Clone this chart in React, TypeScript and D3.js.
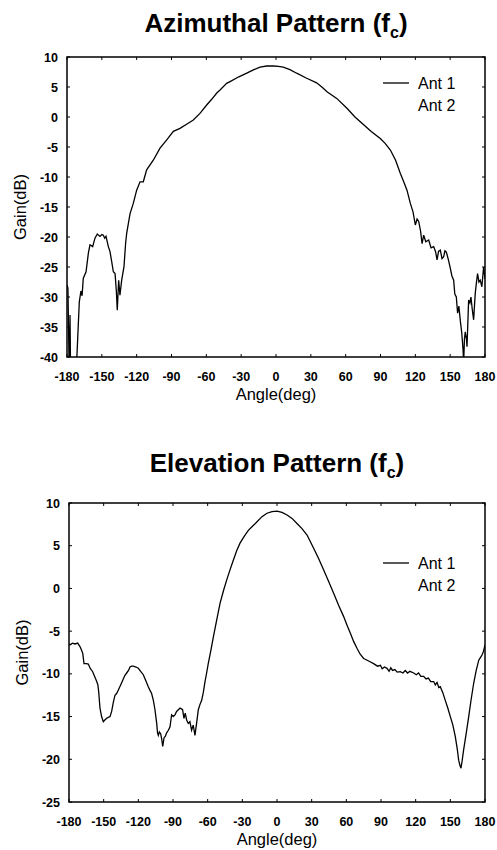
import React from 'react';
import * as d3 from 'd3';

// angle (deg) / gain (dB)
const azimuthAnt1: [number, number][] = [
  [-180, -28], [-179.2, -28.5], [-178.6, -36], [-178, -45], [-177.4, -33], [-176.8, -45], [-173, -45],
  [-171.5, -40], [-169.4, -30.8], [-168, -29], [-167, -29.8], [-166, -26.9], [-163.6, -25.8],
  [-161.6, -22.7], [-160.2, -21.3], [-157.9, -21.6], [-155.9, -20.2], [-153.9, -19.5], [-151.6, -19.9],
  [-150, -19.6], [-148.7, -19.7], [-147.5, -20.2], [-146.4, -19.9], [-144.4, -21.6], [-143, -22.4],
  [-141.5, -24.1], [-140.1, -25.8], [-138.6, -26.1], [-137.5, -29], [-136.7, -32.2], [-135.5, -27.2],
  [-134.4, -29.7], [-132.9, -27.2], [-130.9, -24.9], [-129.5, -21], [-128.6, -19.4], [-125.7, -16.1],
  [-122.9, -14.4], [-120, -12.2], [-117.1, -10.8], [-114.3, -10.8], [-111.4, -8.8], [-105.7, -7.2],
  [-99.9, -5.2], [-94.1, -3.8], [-88.4, -2.4], [-82.7, -1.9], [-77, -1.2], [-71.2, -0.5], [-65.5, 0.6],
  [-59.7, 2.0], [-55.4, 2.95], [-51, 4.0], [-48.2, 4.5], [-42.5, 5.6], [-39.6, 5.9], [-32, 6.7],
  [-25.2, 7.3], [-19, 7.9], [-13.8, 8.3], [-8, 8.5], [-2.3, 8.5], [2, 8.45], [6.3, 8.3], [12, 7.9],
  [17.8, 7.3], [26, 6.5], [35, 5.7], [40, 4.9], [43.9, 4.2], [52.3, 3.1], [61.1, 1.45], [68, 0],
  [75.5, -1.3], [82, -2.4], [89.8, -3.6], [94, -4.4], [98.5, -5.5], [103, -7.2], [107.1, -9.4],
  [110, -10.8], [112.8, -12.2], [115.7, -14.4], [118, -15.8], [120, -18], [121.5, -17], [122.9, -17.4],
  [124.5, -19], [125.8, -21.1], [127.2, -19.7], [129, -20.8], [131.5, -20.5], [133.5, -21.8],
  [135.8, -21.6], [137.5, -22.5], [138.7, -23.8], [140, -22.4], [141.5, -22.2], [143, -23.6],
  [144.4, -23.3], [145.5, -22.3], [146.7, -22.5], [148.5, -23.8], [150.1, -25.2], [151.5, -26.5],
  [153, -27.2], [154, -29.5], [155.3, -30], [156.4, -32.7], [157.5, -31.5], [158.7, -33.9], [160, -36],
  [161.1, -38.8], [161.6, -41], [162.3, -37], [163, -35.8], [164, -37], [164.5, -38.3], [165.9, -30.5],
  [167, -31], [167.9, -30], [169, -32], [170.2, -33.8], [171.6, -29.4], [172.5, -27.8], [173.6, -26.1],
  [174.8, -27.5], [175.9, -27.2], [177.3, -28.3], [178.8, -25], [180, -27],
];

const elevationAnt1: [number, number][] = [
  [-180, -6.5], [-179.1, -6.6], [-177, -6.4], [-174.8, -6.5], [-172.5, -6.4], [-170.5, -6.8],
  [-169.2, -7.2], [-168.1, -7.6], [-167, -8.8], [-165, -8.8], [-163.3, -8.85], [-161.5, -9.4],
  [-159.5, -9.75], [-157.8, -10.3], [-156, -10.9], [-155, -11.3], [-154.3, -12.1], [-153.2, -14],
  [-151.8, -15], [-150.3, -15.6], [-149, -15.4], [-147.4, -15.2], [-146, -15.1], [-144.5, -15],
  [-143.1, -14.4], [-141.6, -13.3], [-140.2, -12.5], [-138.8, -12.3], [-137.3, -11.9], [-135.3, -11.3],
  [-133.3, -10.7], [-131.7, -10.2], [-130.1, -9.9], [-128.5, -9.6], [-127.2, -9.2], [-125.8, -9.1],
  [-124.3, -9.1], [-122, -9.2], [-120, -9.35], [-118, -9.7], [-115.7, -10.1], [-113.5, -10.8],
  [-111.4, -11.5], [-110, -11.9], [-108.5, -12.3], [-107, -13.1], [-105.6, -14.2], [-104.1, -15.8],
  [-103.4, -16.9], [-102.7, -17.2], [-101.8, -16.8], [-100.7, -17], [-99.8, -17.6], [-98.9, -18.5],
  [-97.8, -17.5], [-96.6, -17.3], [-95.5, -16.9], [-94, -16.6], [-92.6, -16.2], [-91.8, -15.4],
  [-91.2, -14.8], [-89.8, -15], [-88.3, -14.8], [-86.9, -14.4], [-85.4, -14.2], [-83.9, -14],
  [-82.8, -14.1], [-81.7, -14.2], [-80.5, -15.2], [-79.4, -14.6], [-78.2, -15.4], [-76.8, -15.8],
  [-75.4, -15.6], [-73.9, -16.6], [-72.5, -16], [-71, -17.2], [-69.6, -15.8], [-68.1, -14.2],
  [-66.7, -13.6], [-65.2, -13.1], [-63.8, -12.2], [-62.3, -10.9], [-60.9, -9.9], [-59.5, -8.8],
  [-57.3, -7.3], [-55.1, -5.7], [-52.2, -3.7], [-49.3, -1.75], [-46.4, -0.3], [-43.5, 1], [-40.6, 2.2],
  [-37.8, 3.3], [-34.9, 4.4], [-32, 5.3], [-28.4, 6.1], [-24.8, 6.8], [-21, 7.3], [-17.3, 7.8],
  [-13, 8.4], [-8.7, 8.8], [-4.3, 9], [0, 9.05], [4.3, 8.9], [8.7, 8.6], [13, 8.2], [17.3, 7.6],
  [21.6, 7], [26, 6.25], [28.8, 5.5], [31.7, 4.7], [36, 3.5], [40.4, 2.15], [44.7, 0.8], [49.1, -0.6],
  [53.4, -2], [57.7, -3.3], [60.6, -4.3], [63.5, -5.25], [66.3, -6.2], [69.2, -7], [72, -7.7],
  [75, -8.2], [79.3, -8.5], [83.6, -8.8], [87, -9.1], [89.5, -9.0], [91, -9.4], [93, -9.2],
  [95.2, -9.35], [97, -9.7], [98.5, -9.3], [100, -9.6], [102, -9.5], [104, -9.8], [106.7, -9.75],
  [109, -9.9], [111, -9.6], [113, -9.9], [115, -9.7], [118.3, -9.9], [120.5, -10.1], [122.5, -9.9],
  [124.5, -10.3], [126.9, -10.3], [129, -10.6], [131, -10.5], [133, -10.9], [135.6, -10.9],
  [137, -11.3], [138.5, -11.0], [140, -11.6], [141.3, -11.5], [143.5, -12.2], [145.6, -13.1],
  [147.8, -14], [150, -15], [152.2, -16], [154.3, -17.35], [156, -18.8], [157.2, -20.1],
  [158.3, -20.7], [159.2, -21.05], [160.2, -20.2], [161.5, -18.9], [163.7, -17], [165.9, -15],
  [168, -13], [170.2, -11.1], [172.4, -9.6], [174.6, -8.4], [176, -8.1], [177.4, -7.8],
  [178.6, -7.4], [179.7, -6.8], [180, -6.6],
];

const angleTicks = [-180, -150, -120, -90, -60, -30, 0, 30, 60, 90, 120, 150, 180];
const azimuthGainTicks = [10, 5, 0, -5, -10, -15, -20, -25, -30, -35, -40];
const elevationGainTicks = [10, 5, 0, -5, -10, -15, -20, -25];
const legendLabels = ['Ant 1', 'Ant 2'];

const FONT = '"Liberation Sans", Arial, Helvetica, sans-serif';

type PanelProps = {
  id: string;
  title: string;
  titleY: number;
  data: [number, number][];
  gainTicks: number[];
  left: number;
  right: number;
  top: number;
  bottom: number;
  legendY: number;
  yLabelX: number;
};

const Panel = ({ id, title, titleY, data, gainTicks, left, right, top, bottom, legendY, yLabelX }: PanelProps) => {
  const x = d3.scaleLinear().domain([-180, 180]).range([left, right]);
  const y = d3
    .scaleLinear()
    .domain([d3.min(gainTicks) as number, d3.max(gainTicks) as number])
    .range([bottom, top]);

  const line = d3
    .line<[number, number]>()
    .x((d) => x(d[0]))
    .y((d) => y(d[1]));

  const midX = (left + right) / 2;

  return (
    <g>
      <defs>
        <clipPath id={`clip-${id}`}>
          <rect x={left} y={top} width={right - left} height={bottom - top} />
        </clipPath>
      </defs>

      <text x={midX} y={titleY} textAnchor="middle" fontFamily={FONT} fontWeight="bold" fontSize={26}>
        {title} (f<tspan fontSize={16} dy={6}>c</tspan>
        <tspan dy={-6}>)</tspan>
      </text>

      {/* frame */}
      <rect x={left} y={top} width={right - left} height={bottom - top} fill="none" stroke="#000" strokeWidth={1.5} />

      {/* inward ticks */}
      {angleTicks.map((t) => (
        <g key={`xt-${t}`}>
          <line x1={x(t)} x2={x(t)} y1={bottom} y2={bottom - 3} stroke="#000" strokeWidth={1} />
          <line x1={x(t)} x2={x(t)} y1={top} y2={top + 3} stroke="#000" strokeWidth={1} />
          <text x={x(t)} y={bottom + 24} textAnchor="middle" fontFamily={FONT} fontWeight="bold" fontSize={12.5}>
            {t}
          </text>
        </g>
      ))}
      {gainTicks.map((t) => (
        <g key={`yt-${t}`}>
          <line x1={left} x2={left + 3} y1={y(t)} y2={y(t)} stroke="#000" strokeWidth={1} />
          <line x1={right} x2={right - 3} y1={y(t)} y2={y(t)} stroke="#000" strokeWidth={1} />
          <text x={left - 9} y={y(t) + 4.5} textAnchor="end" fontFamily={FONT} fontWeight="bold" fontSize={12.5}>
            {t}
          </text>
        </g>
      ))}

      <text x={midX} y={bottom + 43} textAnchor="middle" fontFamily={FONT} fontSize={16.5}>
        Angle(deg)
      </text>
      <text
        transform={`translate(${yLabelX},${(top + bottom) / 2}) rotate(-90)`}
        textAnchor="middle"
        fontFamily={FONT}
        fontSize={16.5}
        dy="0.35em"
      >
        Gain(dB)
      </text>

      <path d={line(data) || ''} fill="none" stroke="#000" strokeWidth={1.3} clipPath={`url(#clip-${id})`} />

      {/* legend */}
      <line x1={right - 102} x2={right - 76} y1={legendY} y2={legendY} stroke="#000" strokeWidth={1.3} />
      {legendLabels.map((lab, i) => (
        <text key={lab} x={right - 67} y={legendY + 6 + i * 22} fontFamily={FONT} fontSize={16}>
          {lab}
        </text>
      ))}
    </g>
  );
};

export default function App() {
  return (
    <svg
      width={497}
      height={850}
      style={{ position: 'absolute', left: 0, top: 0, background: '#fff' }}
    >
      <rect width={497} height={850} fill="#fff" />
      <Panel
        id="az"
        title="Azimuthal Pattern"
        titleY={32}
        data={azimuthAnt1}
        gainTicks={azimuthGainTicks}
        left={67}
        right={485}
        top={57}
        bottom={357}
        legendY={83}
        yLabelX={20}
      />
      <Panel
        id="el"
        title="Elevation Pattern"
        titleY={472}
        data={elevationAnt1}
        gainTicks={elevationGainTicks}
        left={69}
        right={485}
        top={503}
        bottom={802}
        legendY={563}
        yLabelX={22}
      />
    </svg>
  );
}
